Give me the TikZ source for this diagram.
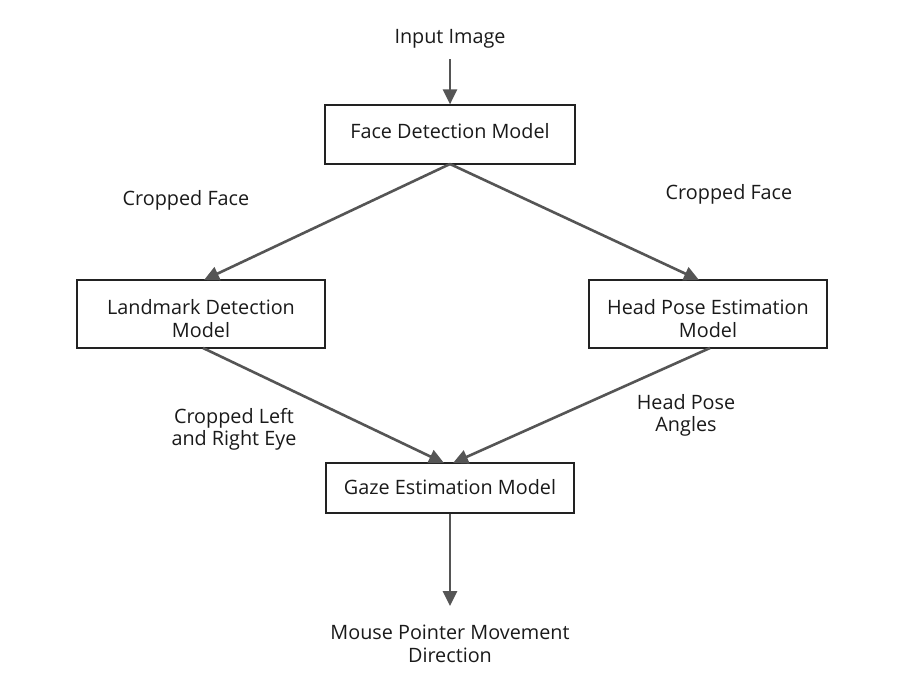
\documentclass[tikz,border=0pt]{standalone}
\usepackage{fontspec}
\setmainfont{Open Sans}
\usetikzlibrary{arrows.meta}
\definecolor{arrowgray}{HTML}{555555}
\definecolor{boxline}{HTML}{222222}
\definecolor{txt}{HTML}{1A1A1A}
\begin{document}
\begin{tikzpicture}[x=1pt,y=-1pt,
  font=\fontsize{19.8}{22.6}\selectfont,
  box/.style={draw=boxline,line width=1.2pt,inner sep=0pt},
  lbl/.style={align=center,inner sep=0pt,text=txt},
  conn/.style={draw=arrowgray,line width=2.6pt,-{Triangle[length=15pt,width=14pt]}}]
\useasboundingbox (0,0) rectangle (920,697);
\fill[white] (0,0) rectangle (920,697);
% boxes
\node[box,minimum width=250pt,minimum height=59pt] (face) at (450,134.5) {};
\node[box,minimum width=248pt,minimum height=68pt] (land) at (201,314) {};
\node[box,minimum width=238pt,minimum height=68pt] (head) at (708,314) {};
\node[box,minimum width=248pt,minimum height=50pt] (gaze) at (450,488) {};
% box texts
\node[lbl] (faceT) at (450,131.5) {Face Detection Model};
\node[lbl] (landT) at (201,318.75) {Landmark Detection\\Model};
\node[lbl] (headT) at (708,318.75) {Head Pose Estimation\\Model};
\node[lbl] (gazeT) at (450,487.5) {Gaze Estimation Model};
% free labels
\node[lbl] (input) at (450,38.5) {Input Image};
\node[lbl] (mouse) at (450,643.75) {Mouse Pointer Movement\\Direction};
\node[lbl] (cf1) at (186,200) {Cropped Face};
\node[lbl] (cf2) at (729,194.2) {Cropped Face};
\node[lbl] (eye) at (234,429.2) {Cropped Left\\and Right Eye};
\node[lbl] (ang) at (686,415.2) {Head Pose\\Angles};
% connector ends
\coordinate (inS) at (450,59);
\coordinate (mouseN) at (450,606);
\coordinate (faceS) at (450,164);
\coordinate (landN) at (204,280);
\coordinate (headN) at (699,280);
\coordinate (landS) at (203,348);
\coordinate (headS) at (710,348);
\coordinate (gazeNL) at (444,463);
\coordinate (gazeNR) at (453,463);
\draw[conn] (inS) -- (face.north);
\draw[conn] (faceS) -- (landN);
\draw[conn] (faceS) -- (headN);
\draw[conn] (landS) -- (gazeNL);
\draw[conn] (headS) -- (gazeNR);
\draw[conn] (gaze.south) -- (mouseN);
\end{tikzpicture}
\end{document}
